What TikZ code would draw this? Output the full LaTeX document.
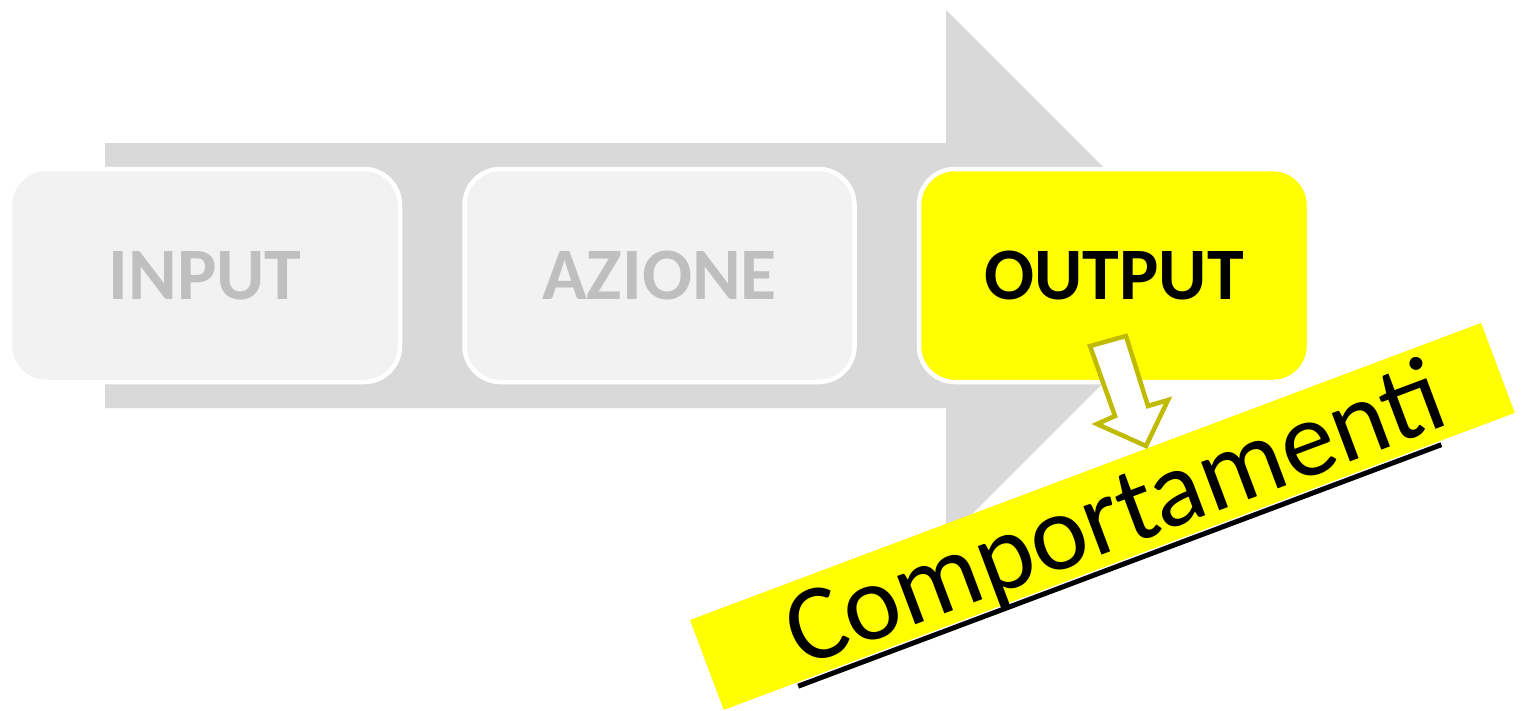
\documentclass[tikz,border=0pt]{standalone}
\usepackage{fontspec}
\setmainfont{Carlito}
\usetikzlibrary{positioning}

\definecolor{arrowgray}{RGB}{217,217,217}
\definecolor{boxgray}{RGB}{242,242,242}
\definecolor{textgray}{RGB}{191,191,191}
\definecolor{hintolive}{RGB}{192,186,0}
\definecolor{hiyellow}{RGB}{255,255,0}

\begin{document}
\begin{tikzpicture}[
  x=1pt, y=-1pt,
  stepbox/.style = {draw=white, line width=4.5pt, rounded corners=36pt, minimum width=390pt, minimum height=213pt, font=\fontsize{74}{80}\selectfont\bfseries},
  banner/.style = {fill=hiyellow, minimum width=845pt, minimum height=96pt, inner sep=0pt},
  hollow/.style = {draw=hintolive, fill=white, line width=4.5pt, line join=miter},
  node distance=60pt
]
  \useasboundingbox (0,0) rectangle (1521,710);

  % Big process arrow
  \fill[arrowgray] (105,143) -- (946,143) -- (946,10) -- (1211,275) -- (946,540) -- (946,408) -- (105,408) -- cycle;

  % Steps
  \node[stepbox, fill=boxgray, text=textgray] (input) at (205,275.5) {INPUT};
  \node[stepbox, fill=boxgray, text=textgray, right=of input] (azione) {AZIONE};
  \node[stepbox, fill=hiyellow, right=of azione] (output) {OUTPUT};

  % Banner
  \begin{scope}[shift={(690,620)}, rotate=20.58, transform shape]
    \node[banner] (banner) at (422.5,48) {};
    \node[anchor=base, inner sep=0pt, font=\fontsize{108}{116}\selectfont] (comp) at (435,84) {Comportamenti};
    \draw[line width=5pt] (78,100) -- (765,100);
  \end{scope}

  % Small arrow from output to banner
  \draw[hollow] (1090,346) -- (1126,336) -- (1148,406) -- (1168,400) -- (1146,446) -- (1097,424) -- (1115,416) -- cycle;

\end{tikzpicture}
\end{document}
